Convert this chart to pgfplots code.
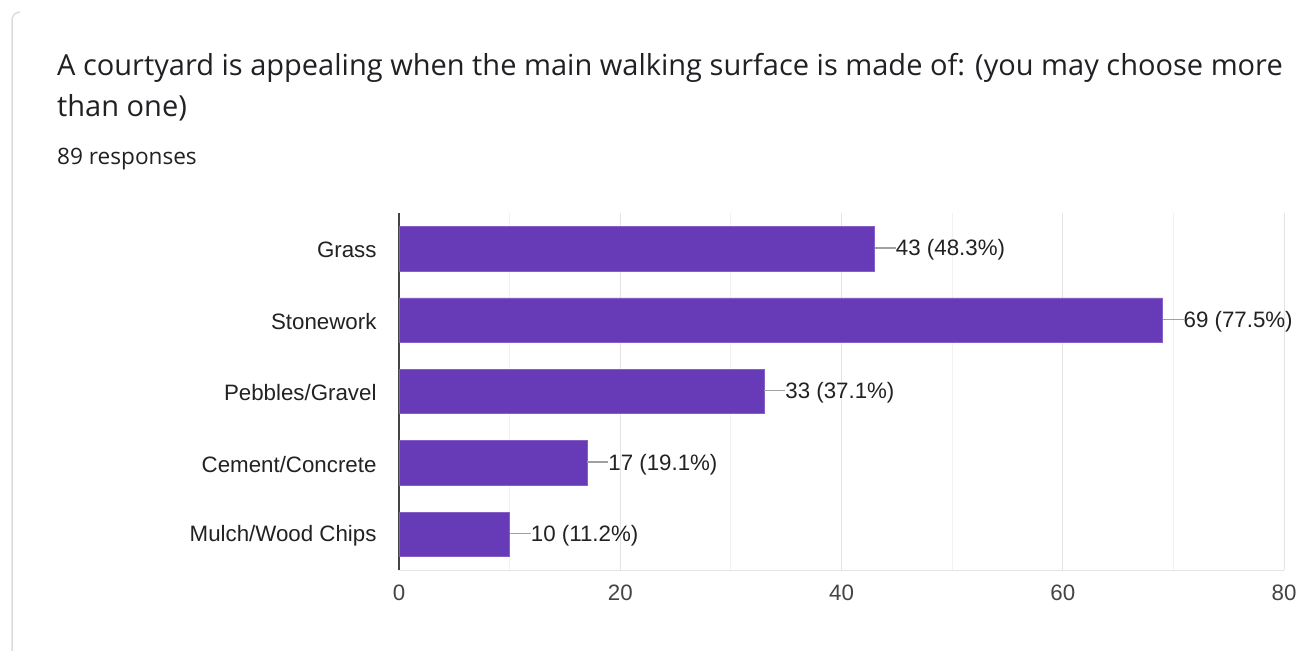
\documentclass[border=0pt]{standalone}
\usepackage{pgfplots}
\pgfplotsset{compat=1.18}
\usepackage{fontspec}
\setmainfont{Liberation Sans}
\newfontfamily\titlefont{Open Sans}
\definecolor{barpurple}{HTML}{673AB7}
\definecolor{titlegray}{HTML}{202124}
\definecolor{labelgray}{HTML}{222222}
\definecolor{tickgray}{HTML}{444444}
\definecolor{majgrid}{HTML}{E4E4E4}
\definecolor{mingrid}{HTML}{F2F2F2}
\definecolor{conn}{HTML}{A0A0A0}
\definecolor{cardline}{HTML}{DADCE0}
\begin{document}
\begin{tikzpicture}
\fill[white] (0,0) rectangle (1301bp,-651bp);
\useasboundingbox (0,0) rectangle (1301bp,-651bp);
\draw[cardline, line width=1.5bp] (12bp,-651bp) -- (12bp,-20bp) arc[start angle=180,end angle=90,radius=8bp];
\node[anchor=base west, inner sep=0pt, text=titlegray, font=\titlefont\fontsize{29bp}{33bp}\selectfont] at (57bp,-75bp) {A courtyard is appealing when the main walking surface is made of: (you may choose more};
\node[anchor=base west, inner sep=0pt, text=titlegray, font=\titlefont\fontsize{29bp}{33bp}\selectfont] at (57bp,-116bp) {than one)};
\node[anchor=base west, inner sep=0pt, text=titlegray, font=\titlefont\fontsize{22.6bp}{26bp}\selectfont] at (57bp,-164bp) {89 responses};
\begin{axis}[
  at={(399bp,-570bp)}, anchor=south west,
  scale only axis, width=885bp, height=357bp,
  xbar, bar width=0.62,
  y dir=reverse,
  xmin=0, xmax=80, ymin=-0.5, ymax=4.5,
  axis x line*=bottom, axis y line*=left,
  x axis line style={draw=majgrid, line width=1bp, -},
  y axis line style={draw=tickgray, line width=1.3bp, -},
  xtick={0,20,40,60,80}, minor xtick={10,30,50,70},
  ytick={0,1,2,3,4},
  yticklabels={Grass,Stonework,Pebbles/Gravel,Cement/Concrete,Mulch/Wood Chips},
  major tick length=0pt, minor tick length=0pt,
  xmajorgrids, xminorgrids,
  major grid style={draw=majgrid, line width=1bp},
  minor grid style={draw=mingrid, line width=1bp},
  ticklabel style={font=\fontsize{22.3bp}{26bp}\selectfont, text=labelgray},
  xticklabel style={anchor=north, yshift=-11bp, text=tickgray},
  yticklabel style={anchor=east, xshift=-19bp, yshift=-1.5bp},
  /pgf/number format/assume math mode=true,
  point meta=explicit symbolic,
  nodes near coords={\textcolor{conn}{\rule[0.33em]{21bp}{1.4bp}}\pgfplotspointmeta},
  nodes near coords style={anchor=west, inner sep=0pt, yshift=-1.5bp, font=\fontsize{22.3bp}{26bp}\selectfont, text=labelgray},
]
\addplot[fill=barpurple, draw=barpurple!80!white, line width=0.6bp] coordinates {
  (43,0) [43 (48.3\%)]
  (69,1) [69 (77.5\%)]
  (33,2) [33 (37.1\%)]
  (17,3) [17 (19.1\%)]
  (10,4) [10 (11.2\%)]
};
\end{axis}
\end{tikzpicture}
\end{document}
